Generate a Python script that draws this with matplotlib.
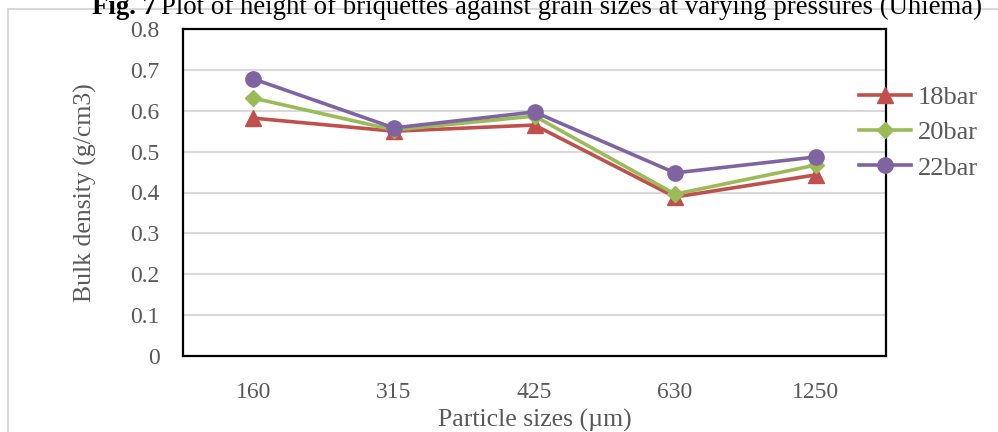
import matplotlib
matplotlib.use("Agg")
import matplotlib.pyplot as plt
from matplotlib.patches import Rectangle

categories = ["160", "315", "425", "630", "1250"]
series_names = ["18bar", "20bar", "22bar"]
v18 = [0.582, 0.550, 0.565, 0.389, 0.443]
v20 = [0.631, 0.553, 0.587, 0.396, 0.467]
v22 = [0.678, 0.558, 0.597, 0.448, 0.487]
yticks = [0, 0.1, 0.2, 0.3, 0.4, 0.5, 0.6, 0.7, 0.8]

W, H = 998, 432
plt.rcParams['font.family'] = ['Liberation Serif', 'DejaVu Serif']
fig = plt.figure(figsize=(W / 100, H / 100), dpi=100)

# outer light frame
fig.patches.append(Rectangle((8 / W, 0 - 0.05), 1.2, (H - 9) / H + 0.05,
                             transform=fig.transFigure, fill=False,
                             edgecolor='#d9d9d9', linewidth=1.5))

ax = fig.add_axes([183 / W, 1 - 356 / H, (886 - 183) / W, (356 - 29) / H])
x = list(range(len(categories)))
gray = '#595959'
styles = [(v18, '#C0504D', '^', 11), (v20, '#9BBB59', 'D', 8), (v22, '#8064A2', 'o', 11)]
for (vals, c, m, ms), name in zip(styles, series_names):
    ax.plot(x, vals, color=c, marker=m, markersize=ms, linewidth=2.6,
            label=name, clip_on=False, zorder=3)

ax.set_xlim(-0.5, 4.5)
ax.set_ylim(0, 0.8)
ax.set_yticks(yticks)
ax.set_yticklabels([f"{t:g}" for t in yticks])
ax.set_xticks(x)
ax.set_xticklabels(categories)
ax.yaxis.grid(True, color='#d9d9d9', linewidth=1.5)
ax.set_axisbelow(True)
ax.tick_params(length=0, labelsize=17, labelcolor=gray)
ax.tick_params(axis='x', pad=19)
ax.tick_params(axis='y', pad=17)
for s in ax.spines.values():
    s.set_color('black')
    s.set_linewidth(1.6)

ax.set_xlabel("Particle sizes (µm)", fontsize=18.5, color=gray, labelpad=4)
ax.set_ylabel("Bulk density (g/cm3)", fontsize=18.5, color=gray, labelpad=24)

leg = ax.legend(loc='upper left', bbox_to_anchor=(848 / W, 1 - 75 / H),
                bbox_transform=fig.transFigure, frameon=False, fontsize=19,
                labelcolor=gray, handlelength=2.0, handletextpad=0.25,
                labelspacing=0.45, borderaxespad=0)

t1 = fig.text(92 / W, 1 - 14 / H, "Fig. 7", fontsize=19.3, va='baseline',
              ha='left', color='black', fontweight='bold')
fig.canvas.draw()
bb = t1.get_window_extent()
fig.text((bb.x1 + 5) / W, 1 - 14 / H,
         "Plot of height of briquettes against grain sizes at varying pressures (Uhiema)",
         fontsize=19.3, va='baseline', ha='left', color='black')

fig.savefig("out.png", dpi=100)
